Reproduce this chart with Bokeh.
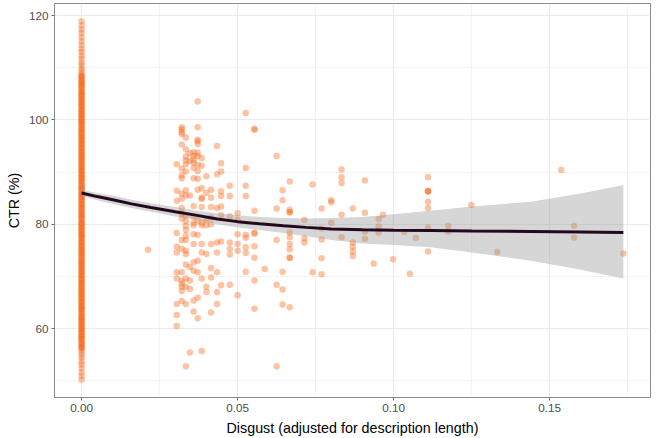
from bokeh.plotting import figure
from bokeh.models import Range1d, FixedTicker
from bokeh.embed import file_html
from bokeh.resources import INLINE

# ---- data ----
# CTR values of descriptions with zero disgust score
ctr_at_zero = [
    50.2, 50.9, 51.6, 52.4, 53.1, 53.7, 54.4, 55.0, 55.5, 56.0,
    56.3, 56.7, 57.0, 57.4, 57.8, 58.1, 58.5, 58.8, 59.2, 59.6, 59.9, 60.3, 60.6, 61.0,
    61.4, 61.7, 62.1, 62.4, 62.8, 63.2, 63.5, 63.9, 64.2, 64.6, 65.0, 65.3, 65.7, 66.0,
    66.4, 66.8, 67.1, 67.5, 67.8, 68.2, 68.6, 68.9, 69.3, 69.6, 70.0, 70.4, 70.7, 71.1,
    71.4, 71.8, 72.2, 72.5, 72.9, 73.2, 73.6, 74.0, 74.3, 74.7, 75.0, 75.4, 75.8, 76.1,
    76.5, 76.8, 77.2, 77.6, 77.9, 78.3, 78.6, 79.0, 79.4, 79.7, 80.1, 80.4, 80.8, 81.2,
    81.5, 81.9, 82.2, 82.6, 83.0, 83.3, 83.7, 84.0, 84.4, 84.8, 85.1, 85.5, 85.8, 86.2,
    86.6, 86.9, 87.3, 87.6, 88.0, 88.4, 88.7, 89.1, 89.4, 89.8, 90.2, 90.5, 90.9, 91.2,
    91.6, 92.0, 92.3, 92.7, 93.0, 93.4, 93.8, 94.1, 94.5, 94.8, 95.2, 95.6, 95.9, 96.3,
    96.6, 97.0, 97.4, 97.7, 98.1, 98.4, 98.8, 99.2, 99.5, 99.9, 100.2, 100.6, 101.0,
    101.3, 101.7, 102.0, 102.4, 102.8, 103.1, 103.5, 103.8, 104.2, 104.6, 104.9, 105.3,
    105.6, 106.0, 106.4, 106.7, 107.1, 107.4, 107.8, 108.2, 108.5, 108.9,
    109.4, 109.9, 110.5, 111.0, 111.7, 112.3, 113.0, 113.6, 114.3, 115.0, 115.8, 116.6,
    117.3, 118.1, 118.9,
]
# further (repeated) zero-disgust CTR values in the dense middle of the column
ctr_at_zero_more = [
    56.5, 57.2, 58.0, 58.7, 59.4, 60.1, 60.8, 61.5, 62.2, 62.9, 63.7, 64.4, 65.1, 65.8,
    66.6, 67.3, 68.0, 68.7, 69.4, 70.2, 70.9, 71.6, 72.3, 73.0, 73.8, 74.5, 75.2, 75.9,
    76.6, 77.4, 78.1, 78.8, 79.5, 80.2, 81.0, 81.7, 82.4, 83.1, 83.8, 84.6, 85.3, 86.0,
    86.7, 87.4, 88.2, 88.9, 89.6, 90.3, 91.0, 91.8, 92.5, 93.2, 93.9, 94.6, 95.4, 96.1,
    96.8, 97.5, 98.2, 99.0, 99.7, 100.4, 101.1, 101.8, 102.6, 103.3, 104.0, 104.7, 105.4,
    106.2, 106.9, 107.6, 108.3,
]

# non-zero disgust levels and CTR values observed at each
disgust_levels = [
    0.0213, 0.0305, 0.0321, 0.0334, 0.0347, 0.0359, 0.0372, 0.0385, 0.0400, 0.0415,
    0.0434, 0.0447, 0.0475, 0.0500, 0.0526, 0.0554, 0.0587, 0.0625, 0.0644, 0.0667,
    0.0714, 0.0740, 0.0769, 0.0800, 0.0833, 0.0869, 0.0908, 0.0936, 0.0952, 0.0966,
    0.0998, 0.1034, 0.1052, 0.1071, 0.1110, 0.1175, 0.1249, 0.1332, 0.1537, 0.1578,
    0.1736,
]
ctr_by_level = [
    [75.1],
    [91.5, 86.4, 84.5, 78.3, 75.7, 74.6, 70.8, 69.6, 64.7, 62.6, 60.5],
    [98.6, 98.2, 97.7, 97.3, 95.3, 90.7, 89.4, 88.8, 85.9, 84.9, 83.1, 82.0, 81.1, 77.0,
     75.3, 70.8, 69.2, 68.6, 68.0, 67.2, 65.3],
    [96.6, 94.3, 93.0, 92.2, 91.5, 90.1, 86.5, 85.5, 81.7, 80.6, 79.7, 78.9, 77.8, 77.0,
     74.9, 74.3, 72.3, 69.6, 68.0, 64.7, 52.8],
    [93.6, 92.1, 85.5, 71.8, 69.2, 67.6, 55.4],
    [93.8, 93.1, 92.4, 91.8, 90.8, 88.8, 83.5, 81.5, 80.3, 79.8, 78.1, 76.2, 72.7, 71.1,
     65.4, 63.3],
    [103.5, 98.6, 96.2, 95.9, 95.4, 93.7, 93.1, 91.4, 90.2, 88.7, 86.6, 80.7, 78.0, 73.0,
     70.8, 65.9, 62.0],
    [92.7, 91.2, 86.9, 85.1, 84.9, 83.3, 80.3, 79.8, 76.2, 74.6, 69.6, 55.7],
    [89.2, 86.0, 80.8, 79.8, 74.3, 68.0, 67.0],
    [86.6, 85.1, 83.3, 81.3, 80.0, 76.2, 71.6, 69.8, 63.1],
    [95.0, 89.6, 83.1, 76.5, 74.6, 70.8, 67.0, 64.7],
    [91.7, 90.1, 86.3, 85.4, 83.4, 81.7, 76.7, 68.3],
    [87.4, 85.4, 81.5, 76.5, 75.3, 74.2, 68.4],
    [82.1, 80.8, 78.1, 76.2, 74.9, 66.4],
    [101.3, 90.8, 87.4, 85.4, 78.0, 77.4, 75.6, 74.5, 70.9],
    [98.3, 98.1, 82.6, 78.4, 78.2, 75.8, 73.6, 69.2, 63.8],
    [71.4],
    [93.1, 83.0, 77.0, 68.4, 52.8],
    [86.5, 84.6, 70.9, 67.5, 64.6],
    [88.2, 82.8, 82.3, 82.3, 78.4, 77.5, 76.2, 75.2, 73.6, 73.6, 64.1],
    [80.8, 77.3, 76.5],
    [87.6, 70.8],
    [83.0, 79.2, 77.1, 73.5, 70.4],
    [84.6, 84.2, 80.3],
    [90.5, 89.0, 87.9, 81.8, 77.5],
    [83.0, 76.5, 75.7, 74.8, 73.9],
    [88.4, 82.2, 78.6, 77.2],
    [72.5],
    [81.0, 79.6, 78.4],
    [81.8],
    [73.3],
    [78.5],
    [70.5],
    [77.4],
    [89.0, 86.3, 86.3, 86.3, 84.3, 83.1, 79.4, 74.8],
    [79.7, 78.6],
    [83.7],
    [74.7],
    [90.4],
    [79.7, 77.4],
    [74.4],
]

# smoothed fit with confidence band
smooth_x = [0.0, 0.005, 0.010, 0.016, 0.0222, 0.030, 0.037, 0.0435, 0.050, 0.057,
            0.0647, 0.072, 0.080, 0.090, 0.100, 0.1118, 0.125, 0.144, 0.160, 0.1736]
smooth_fit = [86.0, 85.3, 84.7, 83.9, 83.2, 82.4, 81.7, 81.0, 80.5, 80.1,
              79.7, 79.4, 79.1, 78.95, 78.85, 78.8, 78.7, 78.6, 78.5, 78.4]
smooth_lo = [85.4, 84.6, 83.9, 83.1, 82.4, 81.5, 80.8, 80.0, 79.4, 78.9,
             78.3, 77.7, 77.0, 76.3, 76.0, 75.6, 74.6, 73.0, 71.3, 69.6]
smooth_hi = [86.6, 86.0, 85.5, 84.7, 84.0, 83.3, 82.6, 82.1, 81.7, 81.4,
             81.2, 81.1, 81.2, 81.4, 81.9, 82.6, 83.4, 84.3, 85.9, 87.5]

x_major = [0.0, 0.05, 0.10, 0.15]
x_minor = [0.025, 0.075, 0.125, 0.175]
y_major = [60, 80, 100, 120]
y_minor = [50, 70, 90, 110]

# ---- build ----
zero_vals = ctr_at_zero + ctr_at_zero_more
pts_x = [0.0] * len(zero_vals)
pts_y = list(zero_vals)
for lvl, ys in zip(disgust_levels, ctr_by_level):
    for yv in ys:
        pts_x.append(lvl)
        pts_y.append(yv)

p = figure(width=659, height=438, output_backend="svg", toolbar_location=None,
           x_range=Range1d(-0.00868, 0.1823), y_range=Range1d(46.8, 122.3),
           min_border_left=54, min_border_right=9, min_border_top=3,
           min_border_bottom=41)
p.background_fill_color = "white"
p.border_fill_color = "white"
p.outline_line_color = "#8a8a8a"
p.outline_line_width = 1

xt = FixedTicker(ticks=x_major, minor_ticks=x_minor)
yt = FixedTicker(ticks=y_major, minor_ticks=y_minor)
p.xaxis.ticker = xt
p.yaxis.ticker = yt
p.xgrid.ticker = xt
p.ygrid.ticker = yt
for g in (p.xgrid, p.ygrid):
    g.grid_line_color = "#EBEBEB"
    g.grid_line_width = 1.1
    g.minor_grid_line_color = "#EBEBEB"
    g.minor_grid_line_width = 0.6

p.xaxis.major_label_overrides = {0.0: "0.00", 0.05: "0.05", 0.10: "0.10", 0.15: "0.15"}
p.yaxis.major_label_overrides = {60: "60", 80: "80", 100: "100", 120: "120"}

for ax in (p.xaxis, p.yaxis):
    ax.axis_line_color = None
    ax.major_tick_line_color = "#6b6b6b"
    ax.major_tick_in = 0
    ax.major_tick_out = 3
    ax.minor_tick_line_color = None
    ax.major_label_text_color = "#4D4D4D"
    ax.major_label_text_font = "Liberation Sans"
    ax.major_label_text_font_size = "11.7px"
    ax.major_label_standoff = 2
    ax.axis_label_text_font = "Liberation Sans"
    ax.axis_label_text_font_size = "14.3px"
    ax.axis_label_text_font_style = "normal"
    ax.axis_label_text_color = "black"

p.xaxis.axis_label = "Disgust (adjusted for description length)"
p.xaxis.axis_label_standoff = 5
p.yaxis.axis_label = "CTR (%)"
p.yaxis.axis_label_standoff = 4

p.scatter(pts_x, pts_y, size=6.5, fill_color="#F86A1D", fill_alpha=0.4,
          line_color=None)
p.varea(x=smooth_x, y1=smooth_lo, y2=smooth_hi, fill_color="#999999", fill_alpha=0.4)
p.line(smooth_x, smooth_fit, line_color="#23091D", line_width=3)

open("out.html", "w").write(file_html(p, INLINE))
